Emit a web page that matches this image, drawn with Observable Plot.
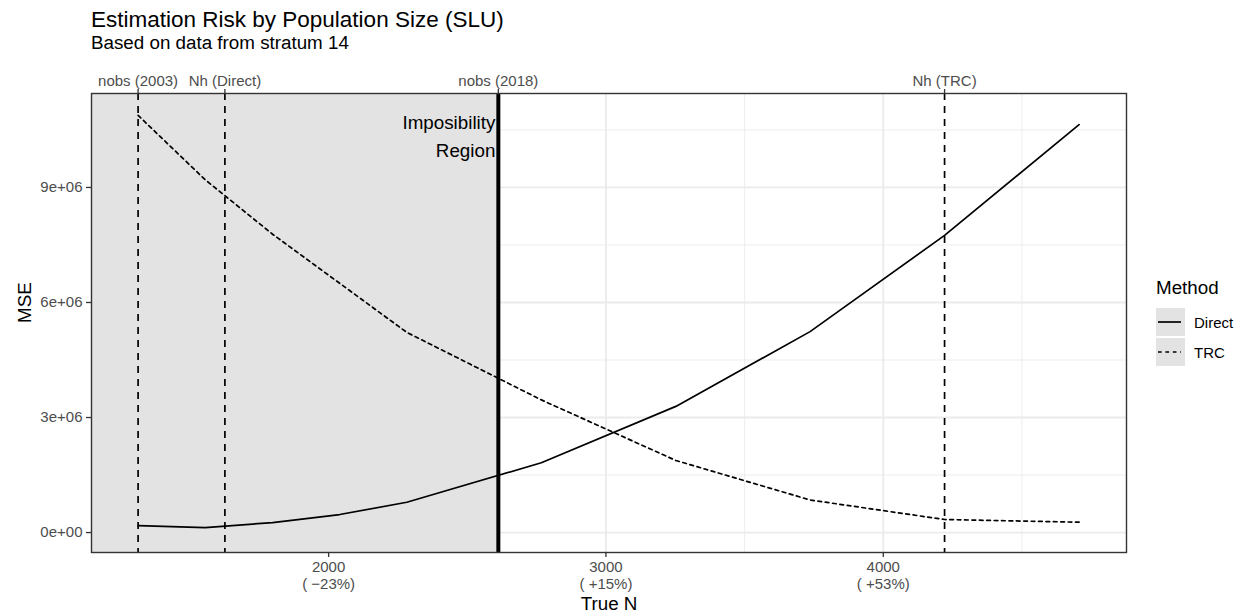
<!DOCTYPE html>
<html>
<head>
<meta charset="utf-8">
<script src="https://cdn.jsdelivr.net/npm/d3@7"></script>
<script src="https://cdn.jsdelivr.net/npm/@observablehq/plot@0.6"></script>
<style>
  body { margin: 0; background: #fff; }
  #fig { position: relative; width: 1238px; height: 613px; overflow: hidden;
         font-family: "Liberation Sans", Arial, Helvetica, sans-serif; color: #000; }
  .t { position: absolute; white-space: nowrap; line-height: 1; }
  #plot { position: absolute; left: 0; top: 56px; }
  #legend { position: absolute; left: 1156px; top: 279px; width: 80px; height: 100px; }
</style>
</head>
<body>
<div id="fig">
  <div class="t" style="left:91px;top:9px;font-size:22.5px">Estimation Risk by Population Size (SLU)</div>
  <div class="t" style="left:91px;top:33.6px;font-size:18.8px">Based on data from stratum 14</div>
  <div id="plot"></div>
  <div id="legend"></div>
</div>
<script>
// Simulated true population sizes and the mean squared error of each estimator
const trueN     = [1313, 1555, 1798, 2040, 2282, 2767, 3252, 3736, 4221, 4706];
const mseDirect = [180000, 130000, 260000, 470000, 790000, 1820000, 3290000, 5240000, 7750000, 10640000];
const mseTRC    = [10880000, 9200000, 7780000, 6500000, 5220000, 3460000, 1880000, 850000, 340000, 270000];

// Reference population sizes shown along the top
const refNames  = ["nobs (2003)", "Nh (Direct)", "nobs (2018)", "Nh (TRC)"];
const refValues = [1313, 1626, 2612, 4221];

const methods     = ["Direct", "TRC"];
const methodDash  = ["none", "3.7,3.7"];

const xTicks = [2000, 3000, 4000];
const xMinor = [1500, 2500, 3500, 4500];
const yTicks = [0, 3e6, 6e6, 9e6];
const yMinor = [1.5e6, 4.5e6, 7.5e6, 10.5e6];

const xDomain = [1145, 4877];
const yDomain = [-520000, 11450000];

const nobs2018 = refValues[2];
const dashedRefs = refValues.filter((v, i) => i !== 2);

const rows = trueN.flatMap((n, i) => [
  {N: n, MSE: mseDirect[i], Method: "Direct"},
  {N: n, MSE: mseTRC[i], Method: "TRC"}
]);

const sci = v => {
  const [m, e] = v.toExponential(0).split("e");
  return `${m}e${e[0]}${e.slice(1).padStart(2, "0")}`;
};
const pctLabel = d => {
  const p = Math.round((d / nobs2018 - 1) * 100);
  return `${d}\n( ${p < 0 ? "\u2212" : "+"}${Math.abs(p)}%)`;
};

const font = "'Liberation Sans', Arial, Helvetica, sans-serif";
const grid = "#ebebeb";

const chart = Plot.plot({
  width: 1238,
  height: 557,
  marginLeft: 91,
  marginRight: 112,
  marginTop: 37,
  marginBottom: 61,
  style: {fontFamily: font, fontSize: "15px", background: "transparent", overflow: "visible"},
  x: {domain: xDomain},
  y: {domain: yDomain},
  marks: [
    // panel grid
    Plot.ruleX(xMinor, {stroke: grid, strokeWidth: 0.9}),
    Plot.ruleY(yMinor, {stroke: grid, strokeWidth: 0.9}),
    Plot.ruleX(xTicks, {stroke: grid, strokeWidth: 1.8}),
    Plot.ruleY(yTicks, {stroke: grid, strokeWidth: 1.8}),
    // sizes below the 2018 count are impossible
    Plot.rect([nobs2018], {
      x1: () => xDomain[0], x2: d => d,
      y1: () => yDomain[0], y2: () => yDomain[1],
      fill: "#e3e3e3"
    }),
    Plot.ruleX(dashedRefs, {stroke: "#000", strokeWidth: 1.7, strokeDasharray: "7,6"}),
    // estimator risk curves
    ...methods.map((m, i) => Plot.line(rows.filter(r => r.Method === m), {
      x: "N", y: "MSE", stroke: "#000", strokeWidth: 1.7,
      strokeDasharray: methodDash[i] === "none" ? null : methodDash[i]
    })),
    Plot.ruleX([nobs2018], {stroke: "#000", strokeWidth: 4}),
    Plot.text([nobs2018], {
      x: d => d, frameAnchor: "top", text: () => "Imposibility\nRegion",
      textAnchor: "end", lineAnchor: "top", lineHeight: 1.5,
      dx: -3, dy: 15.3, fontSize: 18.8, fill: "#000"
    }),
    Plot.frame({stroke: "#333333", strokeWidth: 1.4}),
    // axes
    Plot.axisY(yTicks, {
      anchor: "left", tickFormat: sci, tickSize: 5, tickPadding: 4,
      color: "#4d4d4d", stroke: "#333333", strokeWidth: 1.3, fontSize: 15, label: null
    }),
    Plot.axisX(xTicks, {
      anchor: "bottom", tickFormat: pctLabel, tickSize: 5, tickPadding: 3, lineHeight: 1.1,
      color: "#4d4d4d", stroke: "#333333", strokeWidth: 1.3, fontSize: 15, label: null
    }),
    Plot.axisX(refValues, {
      anchor: "top", tickFormat: d => refNames[refValues.indexOf(d)], tickSize: 5, tickPadding: 3,
      color: "#4d4d4d", stroke: "#333333", strokeWidth: 1.3, fontSize: 15, label: null
    }),
    // axis titles
    Plot.text(["True N"], {frameAnchor: "bottom", text: d => d, lineAnchor: "bottom", dy: 57, fontSize: 18.8, fill: "#000"}),
    Plot.text(["MSE"], {frameAnchor: "left", text: d => d, rotate: -90, lineAnchor: "bottom", dx: -61, fontSize: 18.8, fill: "#000"})
  ]
});
document.getElementById("plot").append(chart);

// legend for line types
const legend = document.getElementById("legend");
let html = `<div class="t" style="left:0;top:0;font-size:18.8px">Method</div>`;
methods.forEach((m, i) => {
  const top = 29.3 + i * 30;
  const dash = methodDash[i] === "none" ? "" : `stroke-dasharray="${methodDash[i]}"`;
  html += `<svg style="position:absolute;left:0;top:${top}px" width="29" height="28">
      <rect width="29" height="28" fill="#e3e3e3"/>
      <line x1="2" x2="25" y1="14" y2="14" stroke="#000" stroke-width="1.7" ${dash}/>
    </svg>
    <div class="t" style="left:38px;top:${top + 7}px;font-size:15px">${m}</div>`;
});
legend.innerHTML = html;
</script>
</body>
</html>
